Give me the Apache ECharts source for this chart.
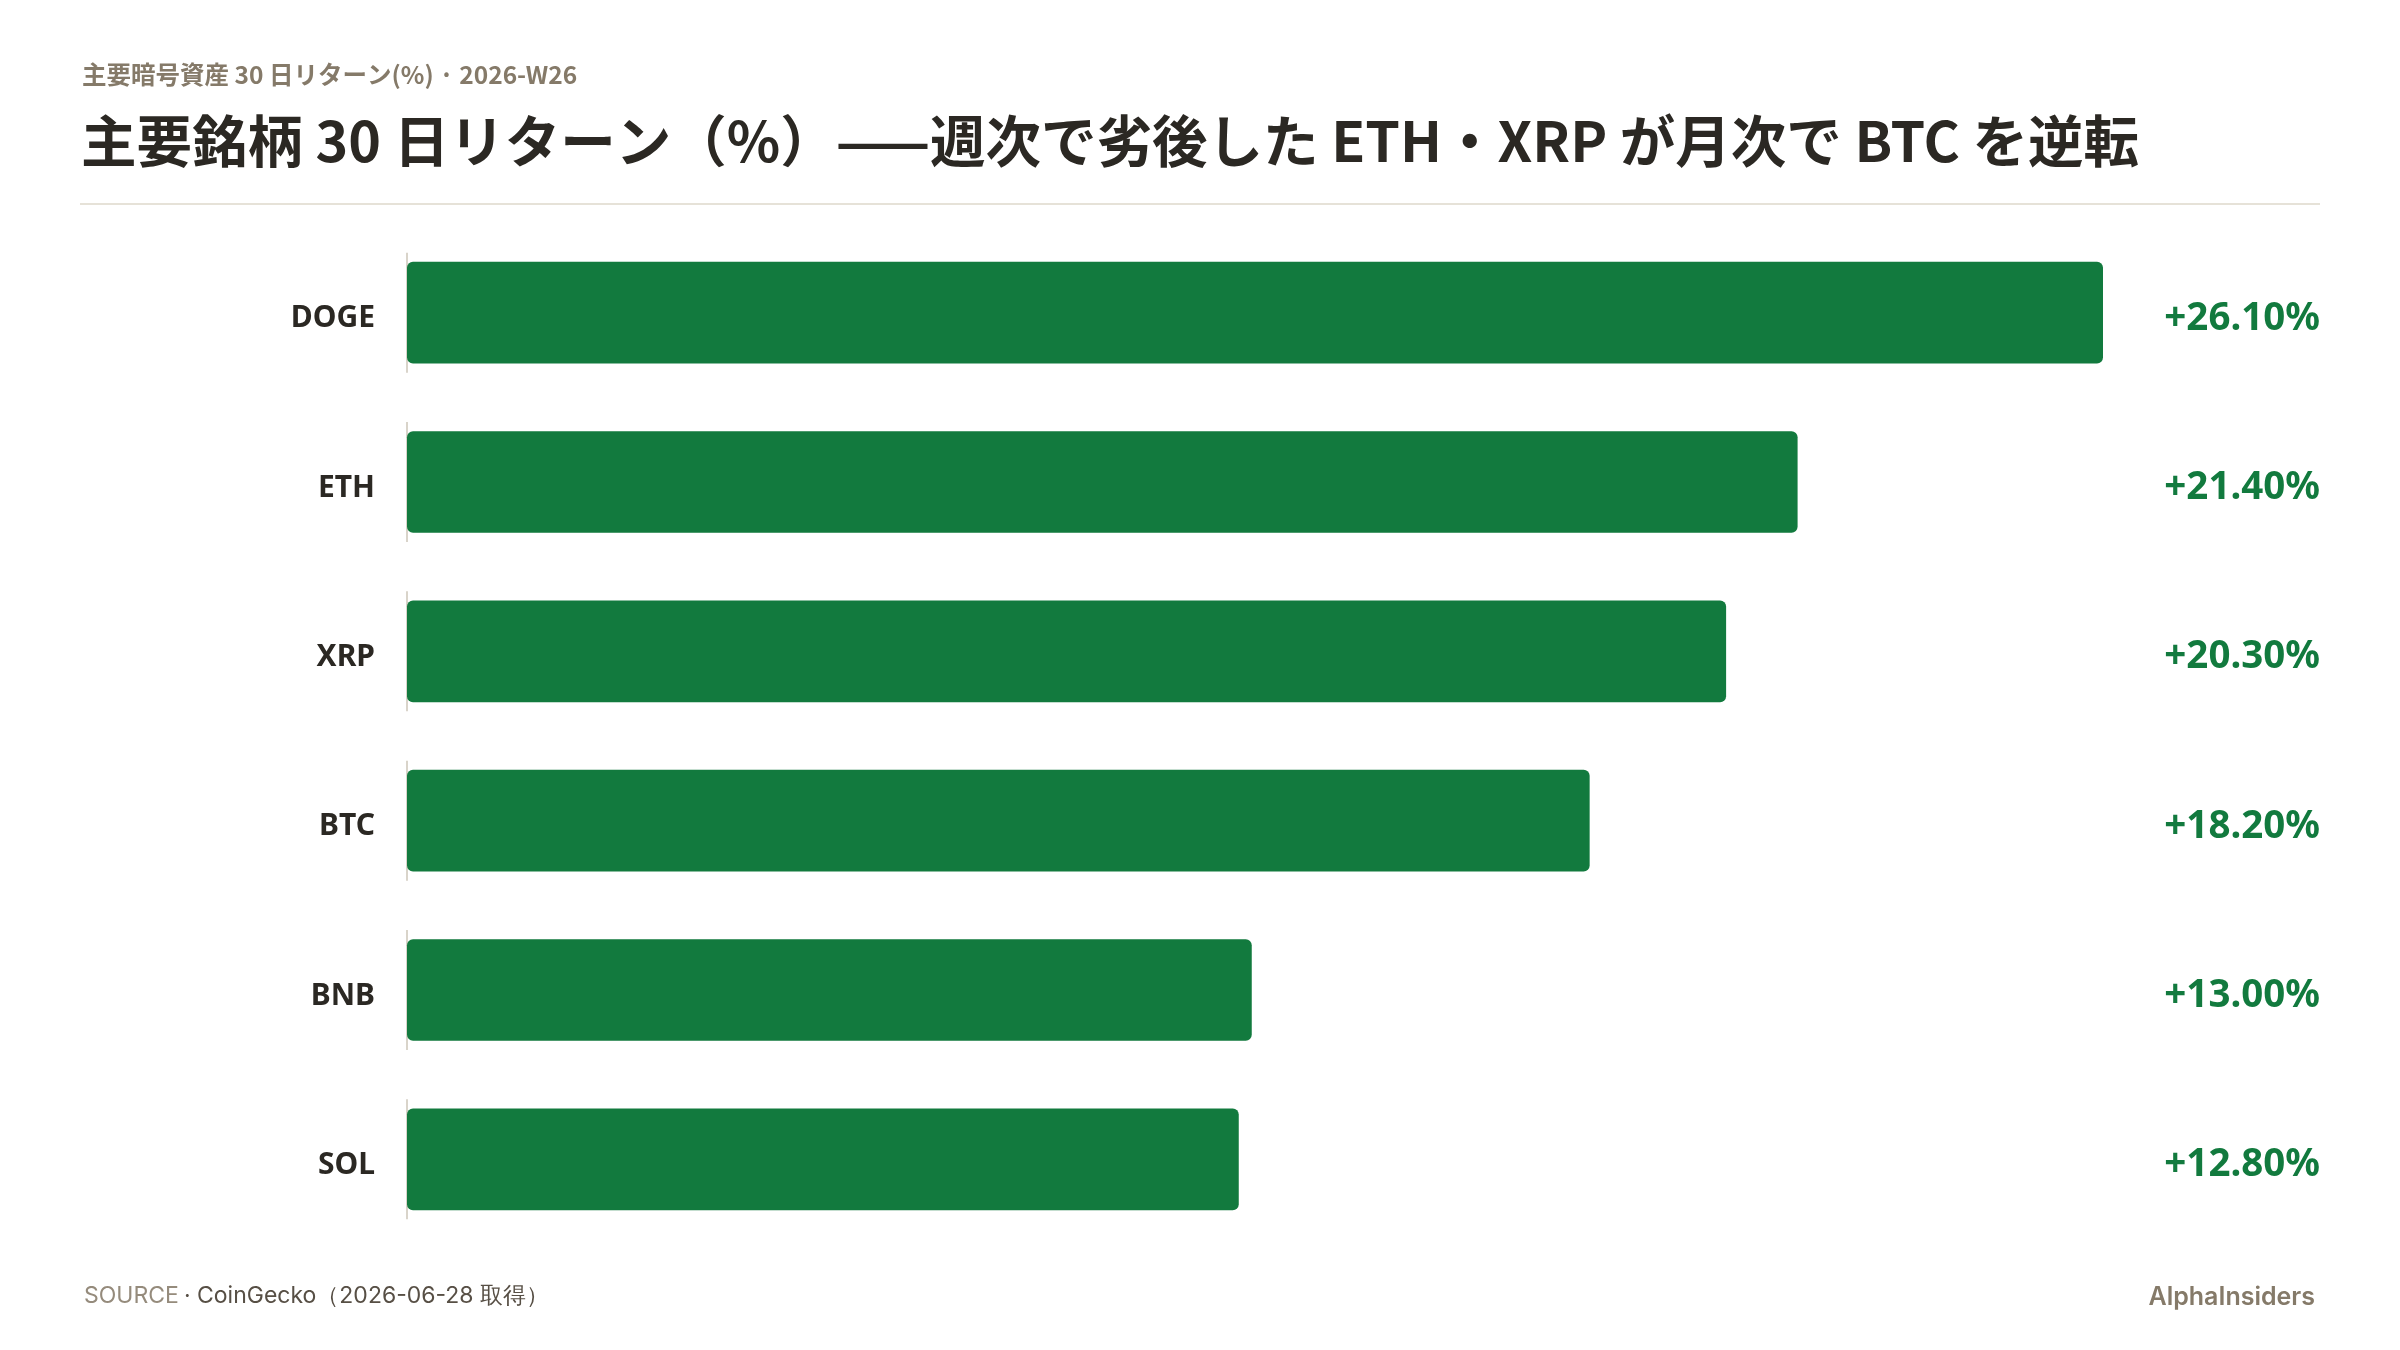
<!DOCTYPE html>
<html>
<head>
<meta charset="utf-8">
<script src="https://cdn.jsdelivr.net/npm/echarts@6/dist/echarts.min.js"></script>
<style>
  html, body { margin: 0; padding: 0; background: #ffffff; }
  #main { width: 2400px; height: 1350px; }
</style>
</head>
<body>
<div id="main"></div>
<script>
// 銘柄と30日リターン（%）
var coins = ["DOGE", "ETH", "XRP", "BTC", "BNB", "SOL"];
var returns = [26.1, 21.4, 20.3, 18.2, 13.0, 12.8];

var green = "#127a3e";
var ink = "#2b2823";
var muted = "#857a69";

var myChart = echarts.init(document.getElementById("main"));

function fmt(v) {
  return (v >= 0 ? "+" : "") + v.toFixed(2) + "%";
}

var option = {
  backgroundColor: "#ffffff",
  animation: false,
  title: [
    {
      text: "主要暗号資産 30 日リターン(%) · 2026-W26",
      left: 77,
      top: 58,
      textStyle: {
        fontFamily: "Noto Sans CJK JP",
        fontSize: 24.5,
        lineHeight: 24,
        fontWeight: "bold",
        color: muted
      }
    },
    {
      text: "主要銘柄 30 日リターン（%）——週次で劣後した ETH・XRP が月次で BTC を逆転",
      left: 76,
      top: 108,
      textStyle: {
        fontFamily: "Noto Sans CJK JP",
        fontSize: 55.5,
        lineHeight: 56,
        fontWeight: "bold",
        color: ink
      }
    },
    {
      text: "{a|SOURCE} {b|· CoinGecko（2026-06-28 取得）}",
      left: 79,
      top: 1280,
      textStyle: {
        fontWeight: "normal",
        rich: {
          a: { fontFamily: "Inter", fontSize: 23, fontWeight: "normal", color: "#958b7c" },
          b: { fontFamily: "Inter", fontSize: 23, fontWeight: "normal", color: "#574f45" }
        }
      }
    },
    {
      text: "AlphaInsiders",
      right: 80,
      top: 1280,
      textStyle: {
        fontFamily: "Inter",
        fontSize: 25,
        fontWeight: 600,
        color: muted
      }
    }
  ],
  graphic: [
    {
      type: "rect",
      shape: { x: 80, y: 203, width: 2240, height: 2 },
      style: { fill: "#e6e2d8" },
      silent: true
    }
  ],
  grid: {
    left: 407,
    right: 297,
    top: 228,
    bottom: 106,
    containLabel: false
  },
  xAxis: {
    type: "value",
    min: 0,
    max: 26.1,
    show: false
  },
  yAxis: [
    {
      type: "category",
      data: coins,
      inverse: true,
      axisLine: { show: false },
      axisTick: { show: false },
      axisLabel: {
        margin: 32,
        verticalAlign: "top",
        lineHeight: 12,
        fontFamily: "Noto Sans",
        fontWeight: "bold",
        fontSize: 30,
        color: ink
      }
    },
    {
      type: "category",
      data: coins,
      inverse: true,
      position: "right",
      axisLine: { show: false },
      axisTick: { show: false },
      axisLabel: {
        margin: 217,
        align: "right",
        verticalAlign: "top",
        lineHeight: 12,
        fontFamily: "Noto Sans",
        fontWeight: "bold",
        fontSize: 38.5,
        color: green,
        formatter: function (v, i) {
          return fmt(returns[i]);
        }
      }
    }
  ],
  series: [
    {
      name: "axis",
      type: "scatter",
      silent: true,
      symbol: "rect",
      symbolSize: [2, 120],
      itemStyle: { color: "#cfc9bd" },
      z: 1,
      data: coins.map(function (c) { return [0, c]; })
    },
    {
      name: "30日リターン",
      type: "bar",
      barWidth: "60%",
      z: 2,
      itemStyle: { color: green, borderRadius: 6 },
      data: returns
    }
  ]
};

myChart.setOption(option);
</script>
</body>
</html>
